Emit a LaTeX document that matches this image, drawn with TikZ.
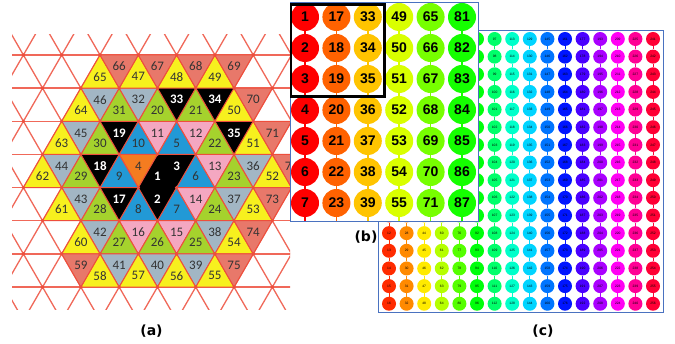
\documentclass[tikz,border=0pt]{standalone}
\usepackage{fontspec}
\setmainfont{Liberation Sans}
\newfontfamily\calibri{Carlito}
\newfontfamily\capfont{DejaVu Sans}
\definecolor{latred}{HTML}{EE4E3C}
\definecolor{labgray}{HTML}{333333}
\definecolor{yel}{HTML}{F7F01E}
\definecolor{grn}{HTML}{A5D22D}
\definecolor{gry}{HTML}{A2B6C4}
\definecolor{blu}{HTML}{2299D6}
\definecolor{pnk}{HTML}{F4A7C1}
\definecolor{org}{HTML}{F47C20}
\definecolor{sal}{HTML}{E8786A}
\definecolor{bbord}{HTML}{4A72C0}
\tikzset{
  latline/.style={latred,line width=1.3pt,opacity=0.85},
  triblk/.style={fill=black,draw=black,line width=1pt},
  tricol/.style={fill=#1,draw=latred,line width=1pt},
  tlab/.style={font=\calibri\fontsize{13}{13}\selectfont,text=labgray,inner sep=0pt},
  tlabw/.style={font=\calibri\bfseries\fontsize{13}{13}\selectfont,text=white,inner sep=0pt},
  bdot/.style={circle,minimum size=28pt,inner sep=0pt,font=\bfseries\fontsize{14}{14}\selectfont},
  cdot/.style={circle,minimum size=14pt,inner sep=0pt,font=\fontsize{3.3}{3.5}\selectfont},
  panlab/.style={font=\capfont\bfseries\fontsize{14}{14}\selectfont}
}
% #1 strip, #2 position, #3 triangle style, #4 label style, #5 number
\newcommand\trinum[5]{%
  \pgfmathsetmacro\tcx{100+19.15*(#2)}%
  \pgfmathsetmacro\tya{55+33.15*(#1)}%
  \pgfmathsetmacro\tyb{\tya+33.15}%
  \pgfmathtruncatemacro\tup{mod(#1+#2+20,2)}%
  \ifnum\tup=0
    \filldraw[#3] (\tcx,\tya) -- (\tcx-19.15,\tyb) -- (\tcx+19.15,\tyb) -- cycle;
    \node[#4] (t#5) at (\tcx,\tya+21.8) {#5};
  \else
    \filldraw[#3] (\tcx-19.15,\tya) -- (\tcx+19.15,\tya) -- (\tcx,\tyb) -- cycle;
    \node[#4] (t#5) at (\tcx,\tya+11.6) {#5};
  \fi}
\begin{document}
\begin{tikzpicture}[x=1pt,y=-1pt]
\fill[white] (0,0) rectangle (675,344);
\useasboundingbox (0,0) rectangle (675,344);
\begin{scope}
\clip (12,35) rectangle (290,310);
\foreach \r in {0,...,7}
  \draw[latline] (0,55+33.15*\r) -- (300,55+33.15*\r);
\foreach \i in {-7,...,8}
  \draw[latline] (100+38.3*\i-38.3,55-66.3) -- ++(11*19.15,11*33.15);
\foreach \i in {-3,...,12}
  \draw[latline] (100+38.3*\i+38.3,55-66.3) -- ++(-11*19.15,11*33.15);
\foreach \n/\s/\m in {1/3/3,2/4/3,3/3/4,17/4/1,18/3/0,19/2/1,33/1/4,34/1/6,35/2/7}
  {\trinum{\s}{\m}{triblk}{tlabw}{\n}}
\foreach \n/\s/\m in {4/3/2}
  {\trinum{\s}{\m}{tricol=org}{tlab}{\n}}
\foreach \n/\s/\m in {5/2/4,6/3/5,7/4/4,8/4/2,9/3/1,10/2/2}
  {\trinum{\s}{\m}{tricol=blu}{tlab}{\n}}
\foreach \n/\s/\m in {11/2/3,12/2/5,13/3/6,14/4/5,15/5/4,16/5/2}
  {\trinum{\s}{\m}{tricol=pnk}{tlab}{\n}}
\foreach \n/\s/\m in {20/1/3,21/1/5,22/2/6,23/3/7,24/4/6,25/5/5,26/5/3,27/5/1,28/4/0,29/3/-1,30/2/0,31/1/1}
  {\trinum{\s}{\m}{tricol=grn}{tlab}{\n}}
\foreach \n/\s/\m in {32/1/2,36/3/8,37/4/7,38/5/6,39/6/5,40/6/3,41/6/1,42/5/0,43/4/-1,44/3/-2,45/2/-1,46/1/0}
  {\trinum{\s}{\m}{tricol=gry}{tlab}{\n}}
\foreach \n/\s/\m in {47/0/2,48/0/4,49/0/6,50/1/7,51/2/8,52/3/9,53/4/8,54/5/7,55/6/6,56/6/4,57/6/2,58/6/0,60/5/-1,61/4/-2,62/3/-3,63/2/-2,64/1/-1,65/0/0}
  {\trinum{\s}{\m}{tricol=yel}{tlab}{\n}}
\foreach \n/\s/\m in {59/6/-1,66/0/1,67/0/3,68/0/5,69/0/7,70/1/8,71/2/9,72/3/10,73/4/9,74/5/8,75/6/7}
  {\trinum{\s}{\m}{tricol=sal}{tlab}{\n}}
\foreach \r in {0,...,7}
  \foreach \i in {-4,...,6}
    \fill[latred] ({100+38.3*\i-19.15*mod(\r,2)},{55+33.15*\r}) circle (1.8);
\end{scope}
\draw[bbord,line width=0.8pt] (378,30) rectangle (663,312);
\foreach \c in {0,...,15} {
  \pgfmathsetmacro\hue{10+22.5*\c}
  \definecolor{huec}{Hsb}{\hue,1,1}
  \colorlet{colc}[rgb]{huec}
  \foreach \r in {0,...,15} {
    \pgfmathtruncatemacro\n{16*\c+\r+1}
    \pgfmathtruncatemacro\hid{(\c<6)&&(\r<11)}
    \ifnum\hid=1
      \node[cdot,fill=colc] (c\n) at (389+17.6*\c,39+17.65*\r) {};
    \else
      \node[cdot,fill=colc] (c\n) at (389+17.6*\c,39+17.65*\r) {\n};
    \fi
  }
  \foreach \r in {1,...,15} {
    \pgfmathtruncatemacro\n{16*\c+\r+1}
    \pgfmathtruncatemacro\np{\n-1}
    \draw[colc,line width=1pt] (c\np) -- (c\n);
  }
}
\filldraw[fill=white,draw=bbord,line width=0.8pt] (290,2) rectangle (478,221);
\foreach \c in {0,...,5} {
  \pgfmathsetmacro\hue{23*\c}
  \definecolor{hueb}{Hsb}{\hue,1,1}
  \colorlet{colb}[rgb]{hueb}
  \foreach \r in {0,...,6} {
    \pgfmathtruncatemacro\n{16*\c+\r+1}
    \node[bdot,fill=colb] (b\n) at (305+31.4*\c,17+31*\r) {\n};
  }
  \foreach \r in {1,...,6} {
    \pgfmathtruncatemacro\n{16*\c+\r+1}
    \pgfmathtruncatemacro\np{\n-1}
    \draw[colb,line width=1.5pt] (b\np) -- (b\n);
  }
  \pgfmathtruncatemacro\n{16*\c+7}
  \coordinate (bend\c) at (305+31.4*\c,221);
  \draw[colb,line width=1.5pt] (b\n) -- (bend\c);
}
\draw[line width=2.7pt] (291,4.5) rectangle (384.5,96.5);
\node[panlab] (capa) at (151.5,331) {(a)};
\node[panlab] (capb) at (366,237.5) {(b)};
\node[panlab] (capc) at (543,331) {(c)};
\end{tikzpicture}
\end{document}
